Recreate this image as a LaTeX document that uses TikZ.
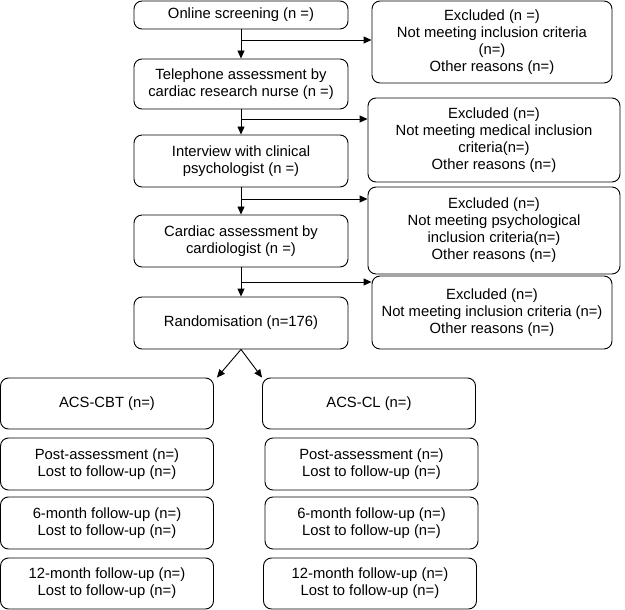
\documentclass[tikz,border=0pt]{standalone}
\usepackage{fontspec}
\setmainfont{Liberation Sans}
\usepackage{tikz}
\usetikzlibrary{arrows.meta, positioning, calc}

\begin{document}
\begin{tikzpicture}[
    x=1pt, y=-1pt,
    font=\fontsize{14.8}{17}\selectfont,
    >={Stealth[length=8pt, width=7pt, inset=0pt]},
    box/.style={draw, line width=0.9pt, rounded corners=8pt,
        inner sep=2pt, align=center},
    stage/.style={box, minimum width=214pt, minimum height=#1},
    excl/.style={box, minimum width=240pt, minimum height=#1},
    wexcl/.style={box, minimum width=252pt, minimum height=#1},
    arm/.style={box, minimum width=213pt, minimum height=#1},
    arr/.style={->, line width=0.9pt},
]
\useasboundingbox (0,0) rectangle (625,610);
%% Screening pathway
\node[stage=28pt] (screen)    at (241,15)  {Online screening (n =)};
\node[stage=50pt] (phone)     at (241,84)  {Telephone assessment by\\cardiac research nurse (n =)};
\node[stage=52pt] (interview) at (241,161) {Interview with clinical\\psychologist (n =)};
\node[stage=52pt] (cardiac)   at (241,241) {Cardiac assessment by\\cardiologist (n =)};
\node[stage=52pt] (random)    at (241,323) {Randomisation (n=176)};
%% Exclusions
\node[excl=82pt]  (excl1) at (492,42)    {Excluded (n =)\\Not meeting inclusion criteria\\(n=)\\Other reasons (n=)};
\node[wexcl=84pt] (excl2) at (494,140)   {Excluded (n=)\\Not meeting medical inclusion\\criteria(n=)\\Other reasons (n=)};
\node[wexcl=87pt] (excl3) at (494,230.5) {Excluded (n=)\\Not meeting psychological\\inclusion criteria(n=)\\Other reasons (n=)};
\node[excl=73pt]  (excl4) at (492,312.5) {Excluded (n=)\\Not meeting inclusion criteria (n=)\\Other reasons (n=)};
%% Arms
\node[arm=51pt] (cbt)     at (107,403.5) {ACS-CBT (n=)};
\node[arm=51pt] (cl)      at (369,403.5) {ACS-CL (n=)};
\node[arm=52pt] (cbtpost) at (107,464)   {Post-assessment (n=)\\Lost to follow-up (n=)};
\node[arm=52pt] (clpost)  at (371.5,464) {Post-assessment (n=)\\Lost to follow-up (n=)};
\node[arm=52pt] (cbtsix)  at (107,523)   {6-month follow-up (n=)\\Lost to follow-up (n=)};
\node[arm=52pt] (clsix)   at (371.5,523) {6-month follow-up (n=)\\Lost to follow-up (n=)};
\node[arm=51pt] (cbttw)   at (107,583.5) {12-month follow-up (n=)\\Lost to follow-up (n=)};
\node[arm=51pt] (cltw)    at (370,583.5) {12-month follow-up (n=)\\Lost to follow-up (n=)};
%% Arrows
\coordinate (b1) at (241,40);
\coordinate (b2) at (241,119);
\coordinate (b3) at (241,199);
\coordinate (b4) at (241,282);
\draw[arr] (screen) -- (phone);
\draw[arr] (phone) -- (interview);
\draw[arr] (interview) -- (cardiac);
\draw[arr] (cardiac) -- (random);
\draw[arr] (b1) -- (b1 -| excl1.west);
\draw[arr] (b2) -- (b2 -| excl2.west);
\draw[arr] (b3) -- (b3 -| excl3.west);
\draw[arr] (b4) -- (b4 -| excl4.west);
\draw[arr] (random.south) -- ([xshift=3pt]cbt.north east);
\draw[arr] (random.south) -- (cl.north west);
\end{tikzpicture}
\end{document}
